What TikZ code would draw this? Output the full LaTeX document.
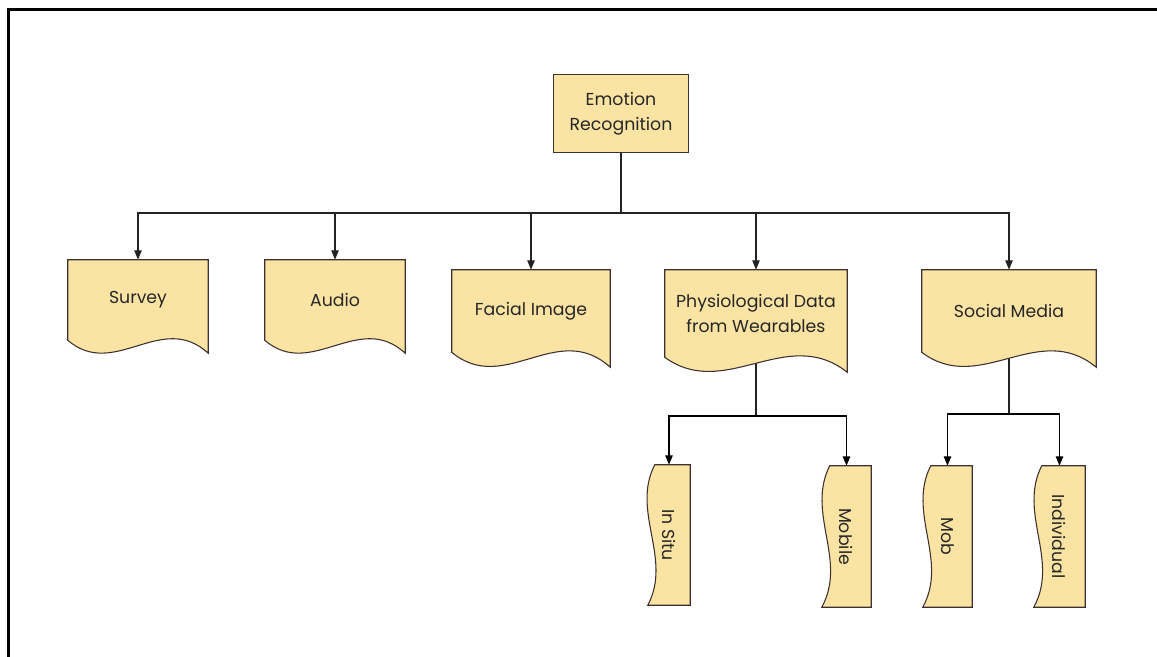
\documentclass[tikz,border=0pt]{standalone}
\usepackage{fontspec}
\setmainfont{Poppins}
\usetikzlibrary{calc,arrows.meta}
\pgfdeclarelayer{back}
\pgfdeclarelayer{mid}
\pgfsetlayers{back,mid,main}
\definecolor{boxfill}{RGB}{251,228,163}
\definecolor{boxline}{RGB}{60,48,48}
\definecolor{linkcol}{RGB}{35,35,35}

% document shape with a wavy bottom edge
\newcommand\wavedoc[4]{%
  \filldraw[shapeline] (#1.north west) -- (#1.north east) -- ($(#1.south east)+(0,#2)$)
    .. controls ($(#1.south west)!0.667!(#1.south east)+(0,#4)$)
    and ($(#1.south west)!0.333!(#1.south east)+(0,#3)$) .. (#1.south west) -- cycle;}
% the same shape turned on its side: wavy edge on the left
\newcommand\wavedocv[2]{%
  \filldraw[shapeline] ($(#1.north west)+(#2,0)$) -- (#1.north east) -- (#1.south east) -- (#1.south west)
    .. controls ($(#1.north west)!0.667!(#1.south west)+(#2+18,0)$)
    and ($(#1.north west)!0.333!(#1.south west)+(#2-24,0)$) .. ($(#1.north west)+(#2,0)$) -- cycle;}

\begin{document}
\begin{tikzpicture}[x=0.75pt,y=-0.75pt,
  docnode/.style 2 args={minimum width=#1*0.75pt, minimum height=#2*0.75pt,
    inner sep=0pt, align=center, font=\fontsize{13}{19}\selectfont, text=black!85},
  shapeline/.style={fill=boxfill, draw=boxline, line width=0.8pt, line join=miter},
  conn/.style={draw=linkcol, line width=0.8pt},
  connarrow/.style={conn, -{Triangle[length=7pt,width=5.5pt]}},
  subarrow/.style={connarrow, draw=black, line width=1.1pt}]
\useasboundingbox (0,0) rectangle (1157,657);

% outer frame
\draw[line width=2pt] (8.5,657) -- (8.5,9.5) -- (1157,9.5);

% boxes
\node[docnode={134}{77}] (er) at (621,113.5) {Emotion\\Recognition};
\node[docnode={140}{80}] (survey) at (138,300) {Survey};
\node[docnode={140}{80}] (audio) at (335,300) {Audio};
\node[docnode={158}{82}] (facial) at (531,311) {Facial Image};
\node[docnode={182}{87}] (phys) at (756,313.5) {Physiological Data\\from Wearables};
\node[docnode={174}{82}] (social) at (1009,311) {Social Media};
\node[docnode={42}{140}] (insitu) at (669,535) {\rotatebox{-90}{In Situ}};
\node[docnode={49}{141}] (mobile) at (846.5,536.5) {\rotatebox{-90}{Mobile}};
\node[docnode={49}{141}] (mob) at (947.5,536.5) {\rotatebox{-90}{Mob}};
\node[docnode={51}{141}] (individual) at (1059.5,536.5) {\rotatebox{-90}{Individual}};

% junction points of the tree
\coordinate (j0) at (621,213);
\coordinate (j1) at (756,416);
\coordinate (j2) at (1009,414);

\begin{pgfonlayer}{back}
  \draw[conn] (er.south) -- (j0);
  \draw[connarrow] (j0) -| (survey.north);
  \draw[connarrow] (j0) -| (audio.north);
  \draw[connarrow] (j0) -| (facial.north);
  \draw[connarrow] (j0) -| (phys.north);
  \draw[connarrow] (j0) -| (social.north);
  \draw[conn] (phys.south) -- (j1);
  \draw[subarrow] (j1) -| (insitu.north);
  \draw[subarrow] (j1) -| (mobile.north);
  \draw[conn] (social.south) -- (j2);
  \draw[subarrow] (j2) -| (mob.north);
  \draw[subarrow] (j2) -| (individual.north);
\end{pgfonlayer}

\begin{pgfonlayer}{mid}
  \filldraw[shapeline] (er.north west) rectangle (er.south east);
  \wavedoc{survey}{13}{40}{-30}
  \wavedoc{audio}{13}{40}{-30}
  \wavedoc{facial}{15}{44}{-33}
  \wavedoc{phys}{15}{44}{-33}
  \wavedoc{social}{15}{44}{-33}
  \wavedocv{insitu}{7}
  \wavedocv{mobile}{8}
  \wavedocv{mob}{8}
  \wavedocv{individual}{8}
\end{pgfonlayer}
\end{tikzpicture}
\end{document}
